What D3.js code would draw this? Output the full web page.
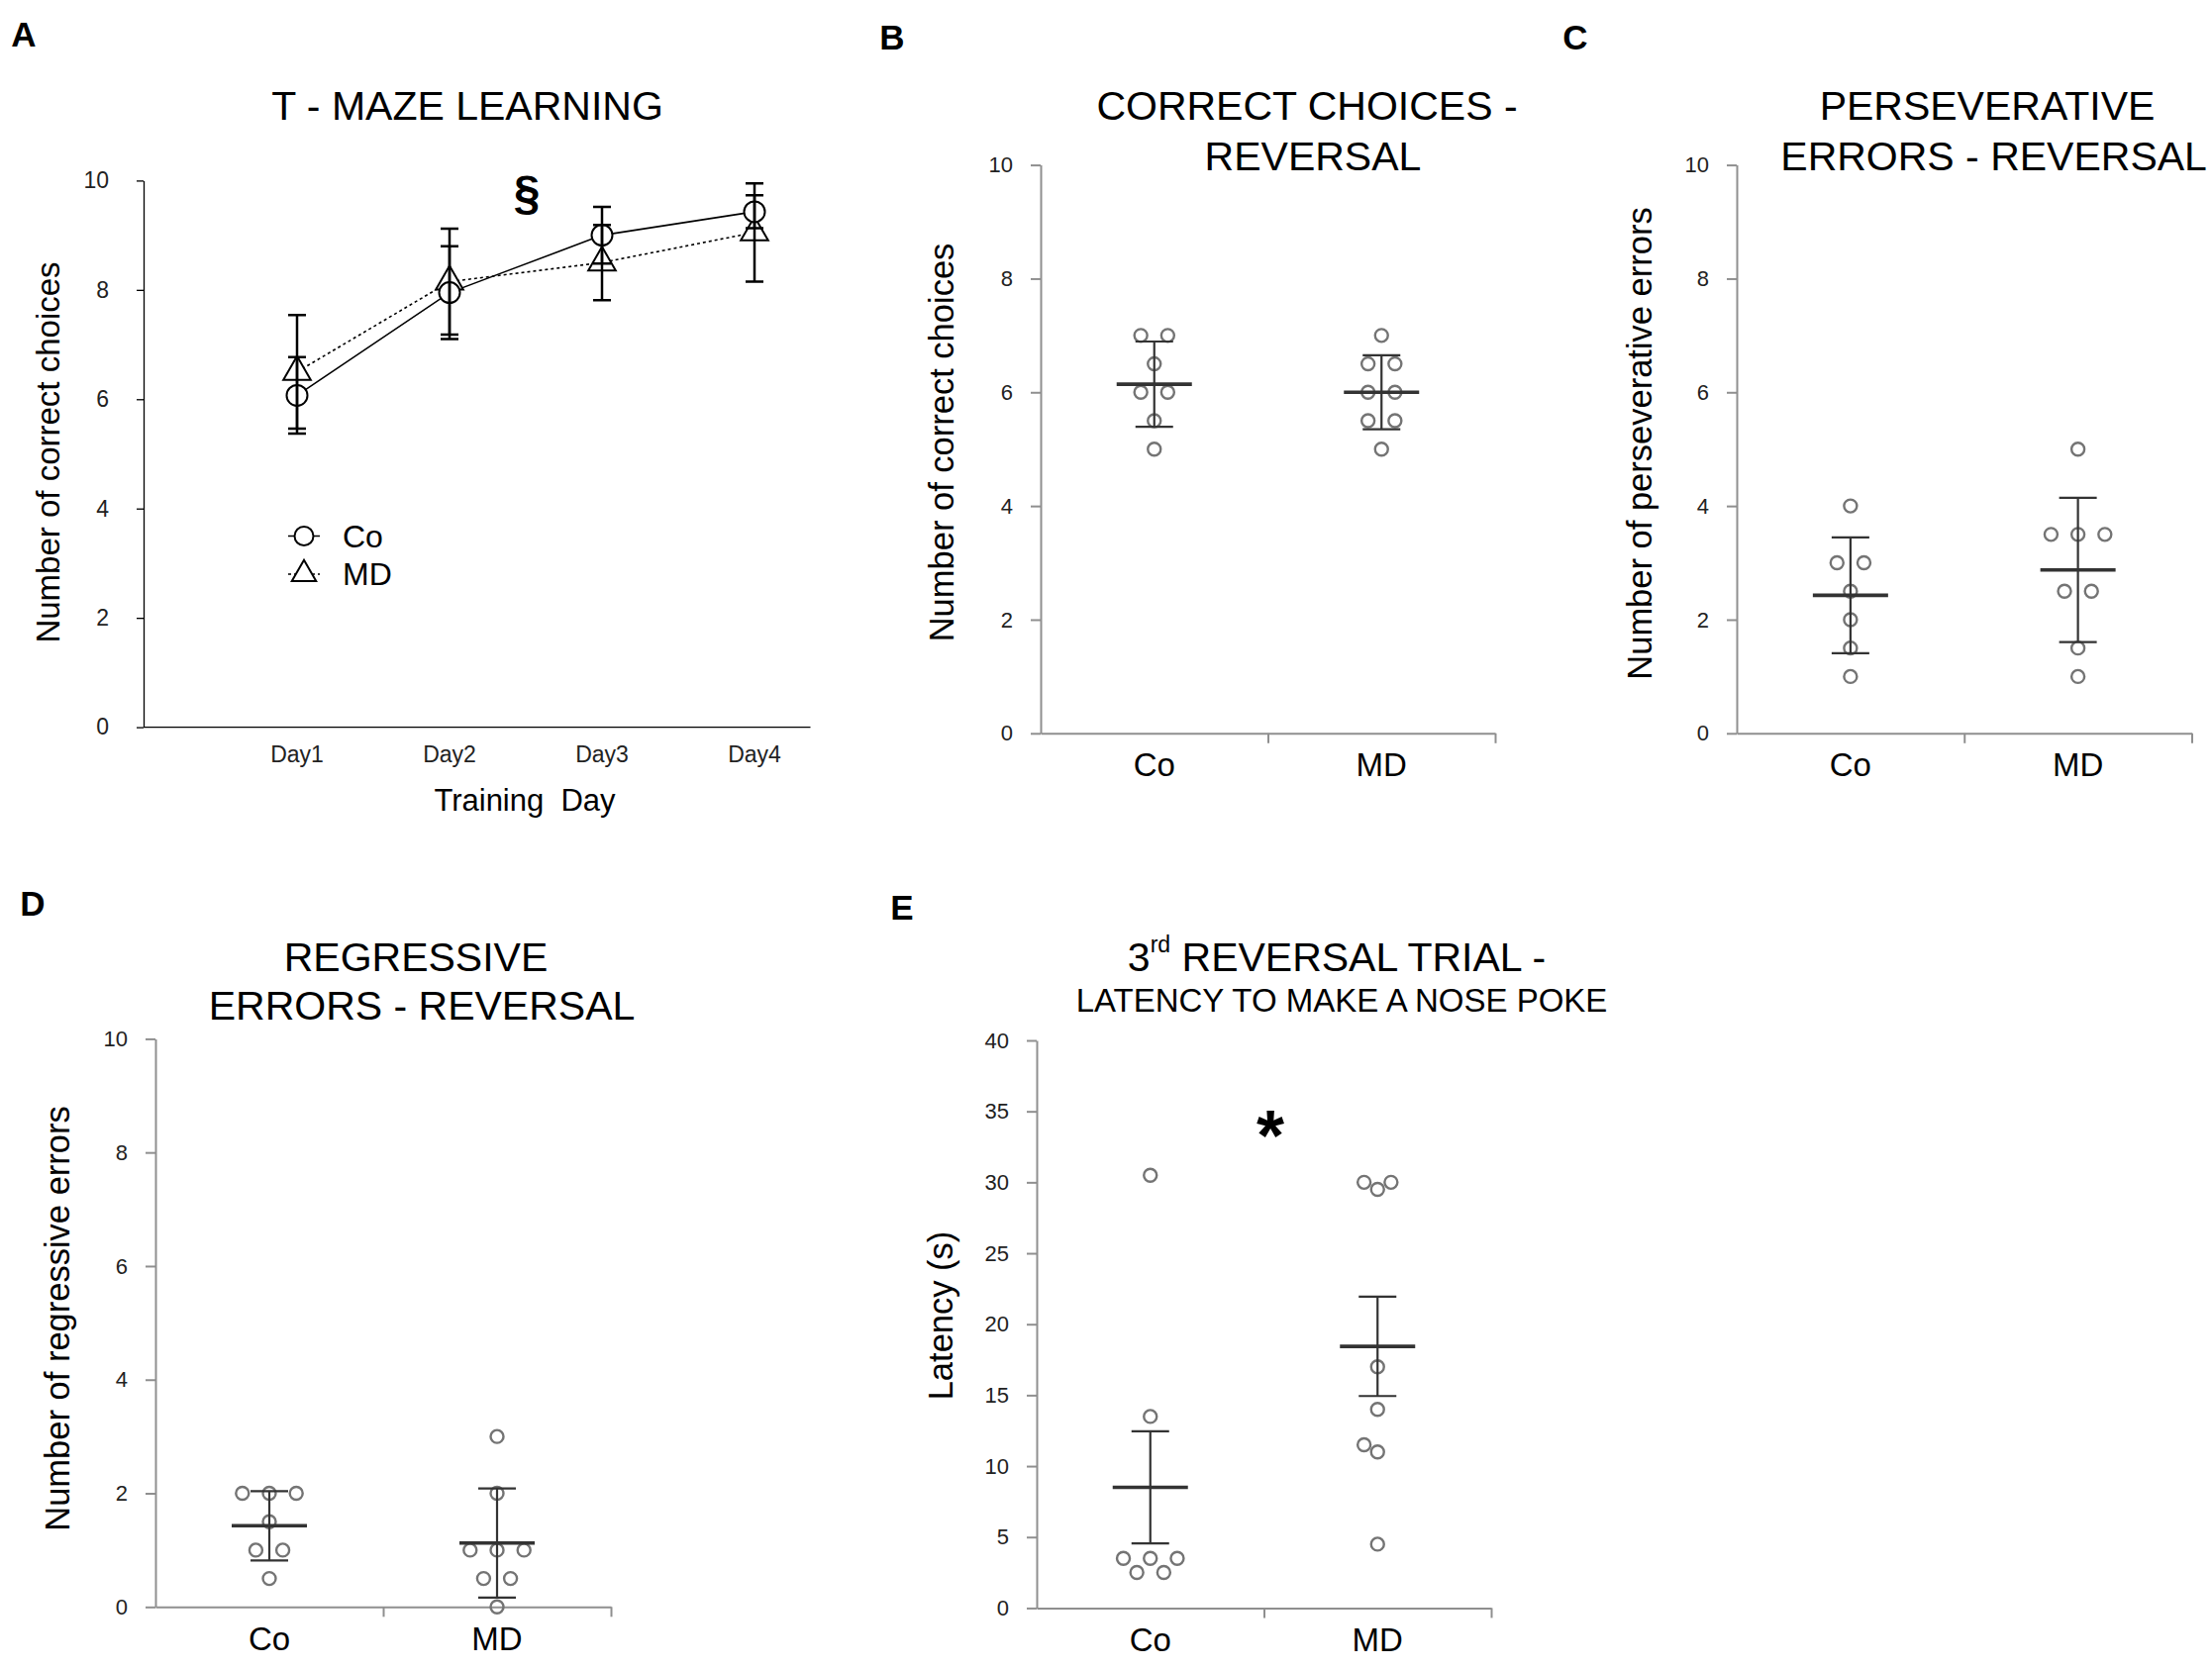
<!DOCTYPE html>
<html>
<head>
<meta charset="utf-8">
<script src="https://cdn.jsdelivr.net/npm/d3@7"></script>
<style>
  body { margin: 0; background: #fff; }
  svg { display: block; }
  text { font-family: "Liberation Sans", Arial, sans-serif; }
</style>
</head>
<body>
<svg width="2234" height="1685"></svg>
<script>
// Panel A - T-maze learning (mean +- error per day)
const days = ["Day1", "Day2", "Day3", "Day4"];
const coMeanA = [6.07, 7.95, 9.0, 9.43];
const coErrA = [0.7, 0.85, 0.52, 0.3];
const mdMeanA = [6.5, 8.15, 8.5, 9.05];
const mdErrA = [1.04, 0.97, 0.69, 0.9];
const ticksA = [0, 2, 4, 6, 8, 10];

// Panels B-E - individual animals, Co vs MD
const groups = ["Co", "MD"];
const correctCo = [7, 7, 6.5, 6, 6, 5.5, 5];
const correctMd = [7, 6.5, 6.5, 6, 6, 5.5, 5.5, 5];
const correctErr = [0.75, 0.65];
const persevCo = [4, 3, 3, 2.5, 2, 1.5, 1];
const persevMd = [5, 3.5, 3.5, 3.5, 2.5, 2.5, 1.5, 1];
const persevErr = [1.02, 1.27];
const regressCo = [2, 2, 2, 1.5, 1, 1, 0.5];
const regressMd = [3, 2, 1, 1, 1, 0.5, 0.5, 0];
const regressErr = [0.61, 0.96];
const latencyCo = [30.5, 13.5, 3.5, 3.5, 3.5, 2.5, 2.5];
const latencyMd = [30, 30, 29.5, 17, 14, 11.5, 11, 4.5];
const latencyErr = [3.95, 3.5];
const ticks10 = [0, 2, 4, 6, 8, 10];
const ticks40 = [0, 5, 10, 15, 20, 25, 30, 35, 40];

const svg = d3.select("svg");
svg.append("rect").attr("width", 2234).attr("height", 1685).attr("fill", "#fff");

// panel letters
[["A", 24, 34], ["B", 901, 37], ["C", 1591, 37], ["D", 33, 912], ["E", 911, 916]].forEach(l => {
    svg.append("text").attr("x", l[1]).attr("y", l[2])
        .attr("text-anchor", "middle").attr("dominant-baseline", "central")
        .attr("font-size", 35).attr("font-weight", "bold").text(l[0]);
});

function title(lines, x, y0, dy) {
    lines.forEach((t, i) => {
        svg.append("text").attr("x", x[i]).attr("y", y0 + i * dy)
            .attr("text-anchor", "middle").attr("dominant-baseline", "central")
            .attr("font-size", 41).text(t);
    });
}

// ---------- Panel A ----------
const gA = svg.append("g");
const xA = d3.scalePoint().domain(days).range([300, 762]);
const yA = d3.scaleLinear().domain([0, 10]).range([734.6, 182.4]);

gA.append("g")
    .attr("transform", "translate(145,0)")
    .call(d3.axisLeft(yA).tickValues(ticksA).tickSize(7).tickSizeOuter(0).tickPadding(28))
    .call(g => g.selectAll("text").attr("font-size", 23).attr("fill", "#222").attr("font-family", "Liberation Sans"))
    .call(g => g.selectAll("line,path").attr("stroke", "#000").attr("stroke-width", 1.3));

gA.append("path")
    .attr("d", `M145,${yA(0)}H818.5`)
    .attr("stroke", "#000").attr("stroke-width", 1.3);

gA.selectAll(".day").data(days).enter().append("text")
    .attr("x", d => xA(d)).attr("y", yA(0) + 27)
    .attr("text-anchor", "middle").attr("dominant-baseline", "central")
    .attr("font-size", 23).attr("fill", "#222").text(d => d);

gA.append("text").attr("x", 530).attr("y", 808)
    .attr("text-anchor", "middle").attr("dominant-baseline", "central")
    .attr("font-size", 31).style("white-space", "pre").text("Training  Day");

gA.append("text")
    .attr("transform", "translate(48,457) rotate(-90)")
    .attr("text-anchor", "middle").attr("dominant-baseline", "central")
    .attr("font-size", 33).text("Number of correct choices");

title(["T - MAZE LEARNING"], [472], 107, 0);

gA.append("text").attr("x", 532).attr("y", 194)
    .attr("text-anchor", "middle").attr("dominant-baseline", "central")
    .attr("font-size", 48).attr("font-weight", "bold").text("§");

const line = d3.line().x((d, i) => xA(days[i])).y(d => yA(d));
gA.append("path").attr("d", line(coMeanA)).attr("fill", "none")
    .attr("stroke", "#000").attr("stroke-width", 1.6);
gA.append("path").attr("d", line(mdMeanA)).attr("fill", "none")
    .attr("stroke", "#000").attr("stroke-width", 1.6).attr("stroke-dasharray", "3,3");

const tri = d3.symbol(d3.symbolTriangle, 330);

// markers
gA.selectAll(".mdm").data(mdMeanA).enter().append("path")
    .attr("d", tri)
    .attr("transform", (d, i) => `translate(${xA(days[i])},${yA(d)})`)
    .attr("fill", "#fff").attr("stroke", "#000").attr("stroke-width", 2);
gA.selectAll(".com").data(coMeanA).enter().append("circle")
    .attr("cx", (d, i) => xA(days[i])).attr("cy", d => yA(d)).attr("r", 10.5)
    .attr("fill", "#fff").attr("stroke", "#000").attr("stroke-width", 2);

// error bars
function errA(means, errs) {
    means.forEach((m, i) => {
        const x = xA(days[i]), lo = yA(m - errs[i]), hi = yA(m + errs[i]);
        gA.append("path")
            .attr("d", `M${x},${lo}V${hi}M${x - 9},${lo}H${x + 9}M${x - 9},${hi}H${x + 9}`)
            .attr("stroke", "#000").attr("stroke-width", 2.5).attr("fill", "none");
    });
}
errA(coMeanA, coErrA);
errA(mdMeanA, mdErrA);

// legend
const legA = [["Co", 541.5], ["MD", 580]];
legA.forEach((l, i) => {
    gA.append("path").attr("d", `M291,${l[1]}H323`).attr("stroke", "#000")
        .attr("stroke-width", 1.5).attr("stroke-dasharray", i ? "3,3" : null);
    if (i == 0) {
        gA.append("circle").attr("cx", 307).attr("cy", l[1]).attr("r", 9.5)
            .attr("fill", "#fff").attr("stroke", "#000").attr("stroke-width", 2);
    } else {
        gA.append("path").attr("d", d3.symbol(d3.symbolTriangle, 260))
            .attr("transform", `translate(307,${l[1]})`)
            .attr("fill", "#fff").attr("stroke", "#000").attr("stroke-width", 2);
    }
    gA.append("text").attr("x", 346).attr("y", l[1])
        .attr("dominant-baseline", "central").attr("font-size", 32).text(l[0]);
});

// ---------- scatter panels ----------
// spread equal values side by side, nudge overlapping neighbours
function spread(values, y, h, r) {
    const pts = values.map(v => ({ v: v, dx: 0 }));
    const sorted = pts.slice().sort((a, b) => a.v - b.v);
    const groupsV = d3.group(sorted, d => d.v);
    groupsV.forEach(arr => {
        arr.forEach((p, i) => { p.dx = (i - (arr.length - 1) / 2) * 2 * h; });
    });
    const placed = [];
    sorted.forEach(p => {
        const hit = dx => placed.some(q => Math.hypot(q.dx - dx, y(q.v) - y(p.v)) < 2 * r + 1);
        if (hit(p.dx)) {
            for (let k = 1; k < 8; k++) {
                if (!hit(p.dx - k * h)) { p.dx -= k * h; break; }
                if (!hit(p.dx + k * h)) { p.dx += k * h; break; }
            }
        }
        placed.push(p);
    });
    return pts;
}

function scatterPanel(c) {
    const g = svg.append("g");
    const x = d3.scaleBand().domain(groups).range([c.left, c.right]);
    const y = d3.scaleLinear().domain([0, c.max]).range([c.bottom, c.top]);

    g.append("g")
        .attr("transform", `translate(${c.left},0)`)
        .call(d3.axisLeft(y).tickValues(c.ticks).tickSize(10).tickSizeOuter(0).tickPadding(18))
        .call(s => s.selectAll("text").attr("font-size", 22).attr("fill", "#222").attr("font-family", "Liberation Sans"))
        .call(s => s.selectAll("line,path").attr("stroke", "#8f8f8f").attr("stroke-width", 2));

    const xt = d3.scaleLinear().domain([0, 2]).range([c.left, c.right]);
    g.append("g")
        .attr("transform", `translate(0,${c.bottom})`)
        .call(d3.axisBottom(xt).tickValues([1, 2]).tickSize(10).tickSizeOuter(0).tickFormat(""))
        .call(s => s.selectAll("line,path").attr("stroke", "#8f8f8f").attr("stroke-width", 2));

    g.selectAll(".cat").data(groups).enter().append("text")
        .attr("x", d => x(d) + x.bandwidth() / 2).attr("y", c.bottom + 32)
        .attr("text-anchor", "middle").attr("dominant-baseline", "central")
        .attr("font-family", "Open Sans").attr("font-size", 33).text(d => d);

    g.append("text")
        .attr("transform", `translate(${c.lx},${c.ly}) rotate(-90)`)
        .attr("text-anchor", "middle").attr("dominant-baseline", "central")
        .attr("font-family", "Open Sans").attr("font-size", 34.5).text(c.ylabel);

    [c.co, c.md].forEach((vals, gi) => {
        const cx = x(groups[gi]) + x.bandwidth() / 2;
        g.selectAll(null).data(spread(vals, y, 13.6, 6.5)).enter().append("circle")
            .attr("cx", d => cx + d.dx).attr("cy", d => y(d.v)).attr("r", 6.5)
            .attr("fill", "none").attr("stroke", "#747474").attr("stroke-width", 2.4);

        const m = d3.mean(vals), e = c.err[gi];
        g.append("path")
            .attr("d", `M${cx},${y(m - e)}V${y(m + e)}M${cx - 19},${y(m - e)}H${cx + 19}M${cx - 19},${y(m + e)}H${cx + 19}`)
            .attr("stroke", "#333").attr("stroke-width", 2.2).attr("fill", "none");
        g.append("path")
            .attr("d", `M${cx - 38},${y(m)}H${cx + 38}`)
            .attr("stroke", "#333").attr("stroke-width", 3.6);
    });
    return g;
}

scatterPanel({ left: 1051, right: 1510, top: 166.6, bottom: 740.8, max: 10, ticks: ticks10,
    co: correctCo, md: correctMd, err: correctErr,
    ylabel: "Number of correct choices", lx: 951, ly: 447 });
title(["CORRECT CHOICES -", "REVERSAL"], [1320, 1326], 107, 51);

scatterPanel({ left: 1754, right: 2213.5, top: 166.6, bottom: 740.8, max: 10, ticks: ticks10,
    co: persevCo, md: persevMd, err: persevErr,
    ylabel: "Number of perseverative errors", lx: 1655.5, ly: 448 });
title(["PERSEVERATIVE", "ERRORS - REVERSAL"], [2007, 2013.6], 107, 51);

scatterPanel({ left: 157, right: 617, top: 1049.4, bottom: 1623.3, max: 10, ticks: ticks10,
    co: regressCo, md: regressMd, err: regressErr,
    ylabel: "Number of regressive errors", lx: 58, ly: 1332 });
title(["REGRESSIVE", "ERRORS - REVERSAL"], [420, 426], 967, 49);

scatterPanel({ left: 1047, right: 1506, top: 1051, bottom: 1624.4, max: 40, ticks: ticks40,
    co: latencyCo, md: latencyMd, err: latencyErr,
    ylabel: "Latency (s)", lx: 950, ly: 1329 });

// E title with superscript
const tE = svg.append("text").attr("x", 1350).attr("y", 967)
    .attr("text-anchor", "middle").attr("dominant-baseline", "central").attr("font-size", 41);
tE.append("tspan").text("3");
tE.append("tspan").attr("font-size", 23).attr("dy", -13).text("rd");
tE.append("tspan").attr("dy", 13).text(" REVERSAL TRIAL -");
svg.append("text").attr("x", 1355).attr("y", 1010)
    .attr("text-anchor", "middle").attr("dominant-baseline", "central")
    .attr("font-size", 33).text("LATENCY TO MAKE A NOSE POKE");

svg.append("text").attr("x", 1283).attr("y", 1172)
    .attr("text-anchor", "middle")
    .attr("font-size", 72).attr("font-weight", "bold").text("*");
</script>
</body>
</html>
